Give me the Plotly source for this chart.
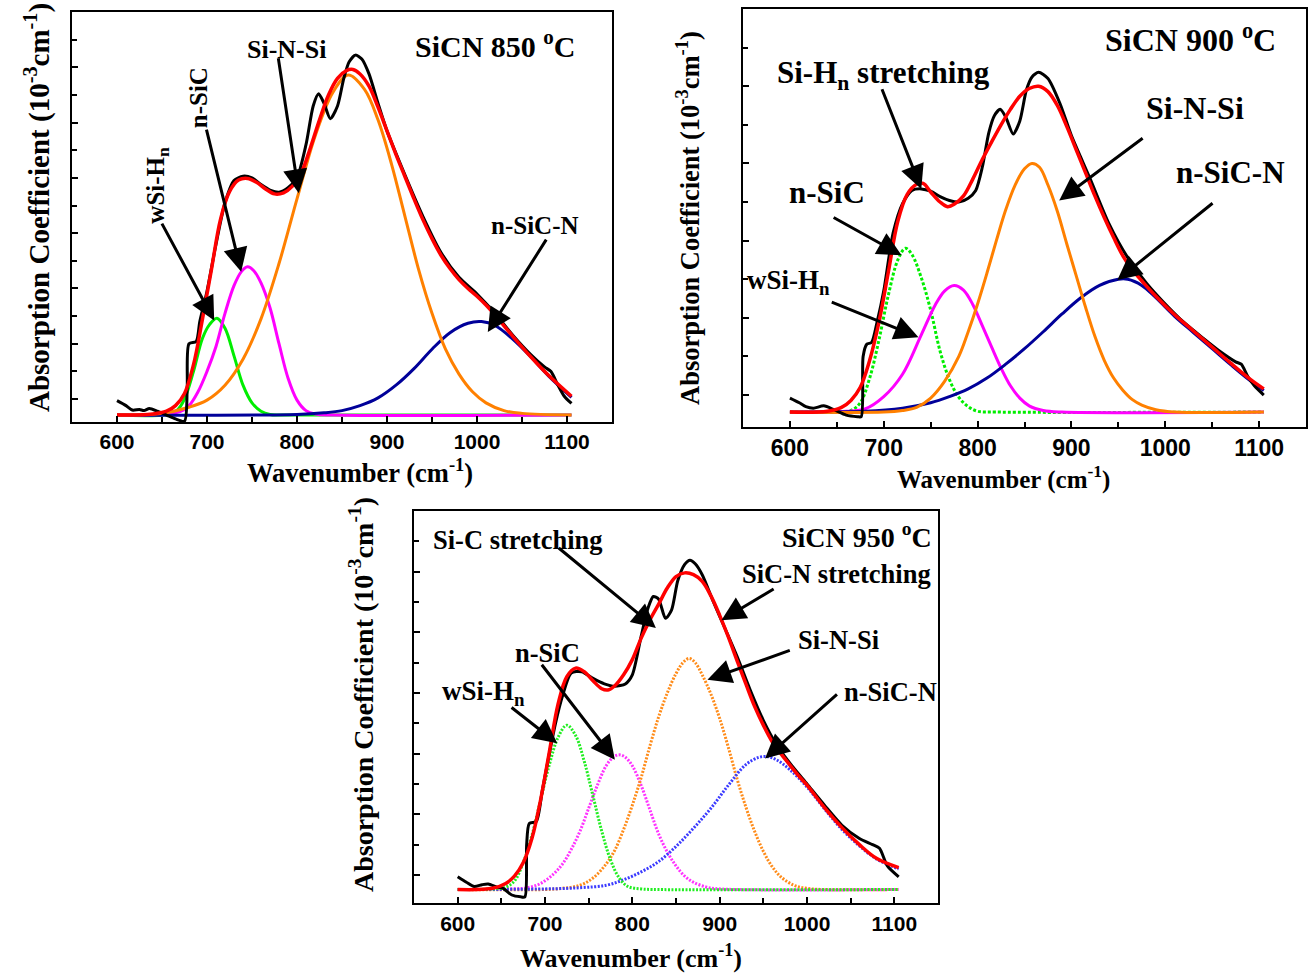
import plotly.graph_objects as go

# ================= Panel 1 : SiCN 850 °C =================
p1_black_x = [600, 610, 617, 625, 630, 636, 645, 655, 665, 675, 678, 680, 688, 692, 700, 710, 720, 730, 740, 750, 760, 770, 780, 790, 800, 810, 818, 824, 830, 837, 845, 852, 858, 865, 872, 880, 890, 900, 920, 940, 960, 980, 1000, 1020, 1040, 1060, 1075, 1082, 1090, 1097, 1105]
p1_black_y = [0.97, 0.88, 0.80, 0.81, 0.79, 0.83, 0.78, 0.71, 0.64, 0.60, 1.20, 2.00, 2.04, 2.40, 2.95, 3.80, 4.55, 4.95, 5.03, 5.00, 4.88, 4.78, 4.74, 4.82, 5.00, 5.60, 6.30, 6.52, 6.35, 6.07, 6.30, 6.80, 7.10, 7.22, 7.15, 6.88, 6.35, 5.85, 5.05, 4.30, 3.65, 3.20, 2.90, 2.55, 2.15, 1.80, 1.58, 1.50, 1.25, 1.05, 0.92]
p1_fit_x = [600, 640, 655, 665, 675, 685, 695, 705, 715, 725, 735, 745, 755, 765, 775, 785, 795, 805, 815, 825, 835, 845, 855, 862, 870, 880, 890, 900, 910, 920, 930, 940, 950, 960, 970, 980, 990, 1000, 1010, 1020, 1040, 1060, 1080, 1105]
p1_fit_y = [0.71, 0.73, 0.78, 0.88, 1.10, 1.62, 2.45, 3.35, 4.25, 4.75, 4.96, 4.99, 4.92, 4.80, 4.71, 4.73, 4.85, 5.10, 5.55, 6.05, 6.50, 6.80, 6.94, 6.96, 6.88, 6.66, 6.28, 5.85, 5.42, 5.02, 4.62, 4.24, 3.90, 3.60, 3.36, 3.16, 3.00, 2.86, 2.70, 2.52, 2.13, 1.76, 1.42, 1.05]
p1_wsih_x = [600, 655, 667, 675, 685, 695, 703, 711, 720, 730, 740, 750, 760, 770, 780, 800, 1105]
p1_wsih_y = [0.71, 0.72, 0.80, 1.00, 1.50, 2.10, 2.35, 2.46, 2.28, 1.78, 1.25, 0.93, 0.78, 0.72, 0.71, 0.71, 0.71]
p1_nsic_x = [600, 650, 670, 680, 690, 700, 710, 720, 730, 738, 745, 752, 760, 770, 780, 790, 800, 810, 820, 840, 1105]
p1_nsic_y = [0.71, 0.72, 0.77, 0.88, 1.13, 1.50, 1.95, 2.55, 3.05, 3.30, 3.39, 3.32, 3.10, 2.65, 2.00, 1.38, 0.98, 0.79, 0.73, 0.71, 0.71]
p1_sinsi_x = [600, 650, 680, 700, 720, 740, 760, 780, 800, 820, 840, 857, 875, 890, 905, 920, 935, 950, 965, 980, 995, 1010, 1030, 1050, 1105]
p1_sinsi_y = [0.71, 0.74, 0.85, 0.98, 1.25, 1.72, 2.45, 3.45, 4.62, 5.75, 6.55, 6.86, 6.60, 6.05, 5.25, 4.30, 3.35, 2.55, 1.90, 1.45, 1.13, 0.93, 0.79, 0.74, 0.71]
p1_nsicn_x = [600, 800, 830, 850, 870, 890, 910, 930, 950, 970, 990, 1005, 1020, 1040, 1060, 1080, 1105]
p1_nsicn_y = [0.71, 0.72, 0.75, 0.79, 0.88, 1.02, 1.25, 1.55, 1.90, 2.20, 2.37, 2.40, 2.33, 2.08, 1.76, 1.41, 1.03]

# ================= Panel 2 : SiCN 900 °C =================
p2_black_x = [600, 610, 617, 625, 636, 647, 660, 672, 676, 678, 682, 687, 693, 700, 710, 720, 730, 740, 750, 760, 770, 780, 790, 798, 805, 812, 818, 824, 830, 838, 845, 852, 858, 865, 875, 888, 900, 920, 940, 960, 980, 1000, 1020, 1040, 1060, 1075, 1081, 1088, 1095, 1105]
p2_black_y = [0.96, 0.90, 0.85, 0.83, 0.86, 0.81, 0.74, 0.72, 0.72, 1.50, 1.66, 1.68, 1.95, 2.35, 3.10, 3.48, 3.65, 3.67, 3.64, 3.57, 3.52, 3.50, 3.55, 3.65, 3.95, 4.40, 4.62, 4.70, 4.60, 4.38, 4.55, 4.95, 5.12, 5.18, 5.10, 4.77, 4.36, 3.80, 3.22, 2.78, 2.45, 2.18, 1.94, 1.74, 1.55, 1.43, 1.40, 1.24, 1.12, 1.00]
p2_fit_x = [600, 640, 655, 665, 675, 685, 695, 705, 715, 725, 735, 742, 750, 760, 768, 775, 785, 795, 805, 815, 825, 835, 845, 855, 865, 875, 885, 895, 905, 915, 925, 935, 945, 955, 965, 975, 990, 1010, 1030, 1050, 1070, 1090, 1105]
p2_fit_y = [0.78, 0.79, 0.84, 0.93, 1.10, 1.45, 1.95, 2.60, 3.25, 3.60, 3.73, 3.74, 3.63, 3.50, 3.44, 3.47, 3.58, 3.80, 4.05, 4.28, 4.50, 4.70, 4.87, 4.97, 5.00, 4.93, 4.75, 4.48, 4.18, 3.88, 3.58, 3.30, 3.04, 2.80, 2.62, 2.48, 2.28, 2.04, 1.83, 1.62, 1.41, 1.21, 1.08]
p2_nsic_x = [600, 650, 665, 675, 685, 695, 705, 715, 723, 730, 740, 750, 760, 770, 780, 790, 800, 820, 1105]
p2_nsic_y = [0.78, 0.78, 0.80, 0.90, 1.22, 1.72, 2.30, 2.75, 2.90, 2.82, 2.52, 2.10, 1.57, 1.20, 0.97, 0.85, 0.79, 0.78, 0.78]
p2_wsih_x = [600, 660, 680, 700, 720, 740, 755, 765, 775, 785, 795, 805, 815, 825, 835, 845, 855, 870, 890, 1105]
p2_wsih_y = [0.78, 0.79, 0.82, 0.98, 1.27, 1.78, 2.17, 2.35, 2.42, 2.36, 2.17, 1.90, 1.62, 1.35, 1.12, 0.96, 0.86, 0.80, 0.78, 0.78]
p2_sinsi_x = [600, 700, 720, 735, 750, 765, 780, 790, 800, 810, 820, 830, 840, 850, 858, 866, 875, 885, 895, 905, 915, 925, 935, 945, 955, 965, 975, 990, 1010, 1105]
p2_sinsi_y = [0.78, 0.78, 0.80, 0.84, 0.96, 1.18, 1.50, 1.82, 2.18, 2.58, 3.00, 3.40, 3.72, 3.93, 4.00, 3.95, 3.72, 3.38, 2.96, 2.55, 2.14, 1.76, 1.45, 1.22, 1.06, 0.94, 0.87, 0.81, 0.78, 0.78]
p2_nsicn_x = [600, 680, 720, 750, 770, 790, 810, 830, 850, 870, 890, 910, 930, 950, 960, 975, 990, 1010, 1030, 1050, 1070, 1090, 1105]
p2_nsicn_y = [0.78, 0.79, 0.83, 0.90, 0.98, 1.08, 1.22, 1.40, 1.60, 1.82, 2.05, 2.26, 2.42, 2.50, 2.50, 2.42, 2.26, 2.02, 1.81, 1.60, 1.39, 1.19, 1.06]

# ================= Panel 3 : SiCN 950 °C =================
p3_black_x = [600, 610, 619, 628, 635, 645, 652, 662, 672, 677, 679, 682, 690, 697, 705, 712, 720, 730, 742, 755, 768, 780, 792, 800, 810, 818, 824, 830, 838, 845, 852, 860, 866, 872, 880, 892, 905, 920, 935, 950, 965, 980, 1000, 1020, 1040, 1060, 1075, 1083, 1092, 1105]
p3_black_y = [0.97, 0.88, 0.81, 0.84, 0.85, 0.80, 0.78, 0.67, 0.64, 0.64, 1.50, 1.85, 1.88, 2.40, 3.00, 3.50, 3.95, 4.33, 4.35, 4.24, 4.15, 4.11, 4.15, 4.30, 4.93, 5.40, 5.59, 5.55, 5.23, 5.37, 5.85, 6.12, 6.19, 6.13, 5.95, 5.53, 5.10, 4.60, 4.05, 3.55, 3.15, 2.85, 2.50, 2.15, 1.82, 1.60, 1.50, 1.44, 1.15, 0.97]
p3_fit_x = [600, 640, 655, 665, 675, 685, 695, 705, 715, 725, 735, 745, 755, 765, 772, 780, 790, 800, 810, 820, 830, 840, 850, 860, 870, 880, 890, 900, 910, 920, 930, 940, 950, 960, 970, 980, 990, 1000, 1020, 1040, 1060, 1080, 1105]
p3_fit_y = [0.76, 0.78, 0.86, 0.98, 1.20, 1.60, 2.24, 3.03, 3.82, 4.27, 4.41, 4.35, 4.20, 4.07, 4.05, 4.12, 4.30, 4.55, 4.90, 5.20, 5.46, 5.73, 5.92, 5.98, 5.95, 5.84, 5.60, 5.28, 4.92, 4.53, 4.15, 3.78, 3.47, 3.20, 3.00, 2.82, 2.64, 2.48, 2.11, 1.78, 1.50, 1.27, 1.12]
p3_wsih_x = [600, 640, 655, 665, 675, 685, 695, 705, 715, 725, 735, 745, 755, 765, 775, 785, 795, 810, 830, 1105]
p3_wsih_y = [0.76, 0.77, 0.80, 0.90, 1.20, 1.65, 2.24, 2.82, 3.27, 3.47, 3.30, 2.87, 2.30, 1.72, 1.25, 0.95, 0.81, 0.77, 0.76, 0.76]
p3_nsic_x = [600, 660, 680, 695, 710, 720, 730, 740, 750, 760, 770, 778, 785, 792, 800, 810, 820, 830, 840, 850, 860, 870, 885, 900, 1105]
p3_nsic_y = [0.76, 0.77, 0.79, 0.86, 1.02, 1.18, 1.42, 1.72, 2.10, 2.48, 2.80, 2.94, 2.98, 2.94, 2.80, 2.48, 2.08, 1.68, 1.38, 1.15, 0.98, 0.88, 0.80, 0.77, 0.76]
p3_sinsi_x = [600, 700, 720, 740, 755, 770, 780, 790, 800, 810, 820, 830, 840, 850, 858, 865, 872, 880, 890, 900, 910, 920, 930, 940, 950, 960, 970, 985, 1000, 1020, 1105]
p3_sinsi_y = [0.76, 0.76, 0.78, 0.83, 0.95, 1.18, 1.41, 1.75, 2.15, 2.60, 3.12, 3.60, 4.00, 4.32, 4.50, 4.57, 4.50, 4.30, 3.98, 3.58, 3.10, 2.58, 2.12, 1.72, 1.39, 1.14, 0.97, 0.83, 0.78, 0.76, 0.76]
p3_nsicn_x = [600, 700, 740, 770, 790, 810, 830, 850, 870, 890, 910, 930, 945, 955, 965, 980, 1000, 1020, 1040, 1060, 1080, 1105]
p3_nsicn_y = [0.76, 0.77, 0.79, 0.83, 0.92, 1.05, 1.22, 1.47, 1.77, 2.10, 2.48, 2.82, 2.94, 2.95, 2.90, 2.74, 2.45, 2.09, 1.75, 1.48, 1.26, 1.10]

# ---------- labels (text, x, y, angle, size) and arrows (tip x, tip y, tail x, tail y) ----------
p1_labels = [("wSi-H<sub>n</sub>", 644, 4.87, -90, 25), ("n-SiC", 690, 6.44, -90, 25),
             ("Si-N-Si", 788, 7.33, 0, 26), ("n-SiC-N", 1064, 4.13, 0, 25),
             ("SiCN 850 <sup>o</sup>C", 1020, 7.42, 0, 30)]
p1_arrows = [(708, 2.42, 649, 4.20), (738, 3.30, 699, 5.90),
             (802, 4.72, 779, 7.19), (1012, 2.21, 1078, 3.91)]
p2_labels = [("Si-H<sub>n</sub> stretching", 700, 5.15, 0, 31), ("n-SiC", 639, 3.62, 0, 31),
             ("wSi-H<sub>n</sub>", 598, 2.47, 0, 27), ("Si-N-Si", 1032, 4.72, 0, 32),
             ("n-SiC-N", 1069, 3.88, 0, 31), ("SiCN 900 <sup>o</sup>C", 1027, 5.63, 0, 32)]
p2_arrows = [(740, 3.67, 697.5, 4.98), (719, 2.81, 645, 3.31), (737, 1.75, 643, 2.21),
             (887, 3.52, 977.5, 4.34), (949, 2.49, 1052, 3.50)]
p3_labels = [("SiCN 950 <sup>o</sup>C", 1057, 6.60, 0, 28), ("Si-C stretching", 669, 6.53, 0, 26.5),
             ("SiC-N stretching", 1034, 5.96, 0, 26.5), ("Si-N-Si", 1036, 4.88, 0, 26.5),
             ("n-SiC-N", 1096, 4.01, 0, 26.5), ("n-SiC", 703, 4.66, 0, 26.5),
             ("wSi-H<sub>n</sub>", 630, 4.00, 0, 27)]
p3_arrows = [(827, 5.07, 714, 6.41), (902, 5.20, 963.5, 5.73), (886, 4.22, 982, 4.71),
             (952, 2.92, 1036, 4.00), (780, 2.90, 695, 4.49), (714, 3.17, 660, 3.78)]

x_ticks = [600, 700, 800, 900, 1000, 1100]

SERIF = "Liberation Serif"
SANS = "Liberation Sans"

fig = go.Figure()

def add_line(x, y, color, ax, width=3, dash="solid", smooth=1.0):
    fig.add_trace(go.Scatter(x=x, y=y, mode="lines", xaxis="x" + ax, yaxis="y" + ax,
                             line=dict(color=color, width=width, dash=dash, shape="spline", smoothing=smooth),
                             hoverinfo="skip", showlegend=False))

# panel 1 (solid components)
add_line(p1_wsih_x, p1_wsih_y, "#00EE00", "")
add_line(p1_nsic_x, p1_nsic_y, "#FF00FF", "")
add_line(p1_nsicn_x, p1_nsicn_y, "#000099", "")
add_line(p1_sinsi_x, p1_sinsi_y, "#FF8000", "")
add_line(p1_black_x, p1_black_y, "#000000", "", width=3, smooth=0.7)
add_line(p1_fit_x, p1_fit_y, "#FF0000", "", width=3.5)

# panel 2
add_line(p2_nsic_x, p2_nsic_y, "#00EE00", "2", dash="3px,2px")
add_line(p2_wsih_x, p2_wsih_y, "#FF00FF", "2")
add_line(p2_nsicn_x, p2_nsicn_y, "#000099", "2")
add_line(p2_sinsi_x, p2_sinsi_y, "#FF8000", "2")
add_line(p2_black_x, p2_black_y, "#000000", "2", width=3, smooth=0.7)
add_line(p2_fit_x, p2_fit_y, "#FF0000", "2", width=3.5)

# panel 3 (dotted components)
add_line(p3_nsic_x, p3_nsic_y, "#FF33FF", "3", dash="2px,1.5px")
add_line(p3_sinsi_x, p3_sinsi_y, "#FF8C1A", "3", dash="2px,1.5px")
add_line(p3_nsicn_x, p3_nsicn_y, "#3B3BFF", "3", dash="2px,1.5px")
add_line(p3_wsih_x, p3_wsih_y, "#22EE22", "3", dash="2px,1.5px")
add_line(p3_black_x, p3_black_y, "#000000", "3", width=3, smooth=0.7)
add_line(p3_fit_x, p3_fit_y, "#FF0000", "3", width=3.5)

def xaxis_cfg(domain, anchor, tsize):
    return dict(domain=domain, anchor=anchor, range=[550, 1150], tickvals=x_ticks,
                ticks="inside", ticklen=6, tickwidth=2, tickcolor="black",
                minor=dict(tickvals=[650, 750, 850, 950, 1050], ticks="inside", ticklen=5, tickwidth=2, tickcolor="black"),
                showline=True, linewidth=2, linecolor="black", mirror=True,
                showgrid=False, zeroline=False, ticklabelstandoff=0,
                tickfont=dict(family=SANS, size=tsize, color="black", weight="bold"))

def yaxis_cfg(domain, anchor, rng, nmax):
    return dict(domain=domain, anchor=anchor, range=rng,
                tickvals=list(range(1, nmax + 1)), showticklabels=False,
                ticks="inside", ticklen=6, tickwidth=2, tickcolor="black",
                minor=dict(tickvals=[k + 0.5 for k in range(0, nmax + 1)], ticks="inside", ticklen=5, tickwidth=2, tickcolor="black"),
                showline=True, linewidth=2, linecolor="black", mirror=True,
                showgrid=False, zeroline=False)

fig.update_layout(
    width=1309, height=975, margin=dict(l=0, r=0, t=0, b=0),
    paper_bgcolor="white", plot_bgcolor="white", showlegend=False,
    xaxis=xaxis_cfg([72/1309, 612/1309], "y", 21),
    yaxis=yaxis_cfg([1-422/975, 1-12/975], "x", [0.584, 8.0], 7),
    xaxis2=xaxis_cfg([743/1309, 1306/1309], "y2", 23),
    yaxis2=yaxis_cfg([1-426.7/975, 1-9/975], "x2", [0.59, 6.0], 5),
    xaxis3=xaxis_cfg([414/1309, 938/1309], "y3", 21),
    yaxis3=yaxis_cfg([1-903.3/975, 1-511/975], "x3", [0.533, 7.0], 6),
)

annotations = []

def add_labels(labels, ax):
    for text, x, y, ang, sz in labels:
        annotations.append(dict(text=text, x=x, y=y, xref="x" + ax, yref="y" + ax,
                                showarrow=False, textangle=ang,
                                font=dict(family=SERIF, size=sz, color="black", weight="bold"),
                                xanchor="center", yanchor="middle"))

def add_arrows(arrows, ax):
    for tx, ty, sx, sy in arrows:
        annotations.append(dict(text="", x=tx, y=ty, ax=sx, ay=sy,
                                xref="x" + ax, yref="y" + ax, axref="x" + ax, ayref="y" + ax,
                                showarrow=True, arrowhead=2, arrowsize=1.6, arrowwidth=3,
                                arrowcolor="black", standoff=0))

add_labels(p1_labels, "")
add_arrows(p1_arrows, "")
add_labels(p2_labels, "2")
add_arrows(p2_arrows, "2")
add_labels(p3_labels, "3")
add_arrows(p3_arrows, "3")

xtitle = "Wavenumber (cm<sup>-1</sup>)"
ytitle = "Absorption Coefficient (10<sup>-3</sup>cm<sup>-1</sup>)"
for (px, py, sz) in [(360, 471, 26.5), (1003, 478, 25), (631, 956, 26)]:
    annotations.append(dict(text=xtitle, x=px/1309, y=1-py/975, xref="paper", yref="paper",
                            showarrow=False, xanchor="center", yanchor="middle",
                            font=dict(family=SERIF, size=sz, color="black", weight="bold")))
for (px, py, sz) in [(37, 208, 29), (688, 218, 26.5), (361, 695, 28)]:
    annotations.append(dict(text=ytitle, x=px/1309, y=1-py/975, xref="paper", yref="paper",
                            showarrow=False, xanchor="center", yanchor="middle", textangle=-90,
                            font=dict(family=SERIF, size=sz, color="black", weight="bold")))

fig.update_layout(annotations=annotations)
fig.write_html("out.html")
